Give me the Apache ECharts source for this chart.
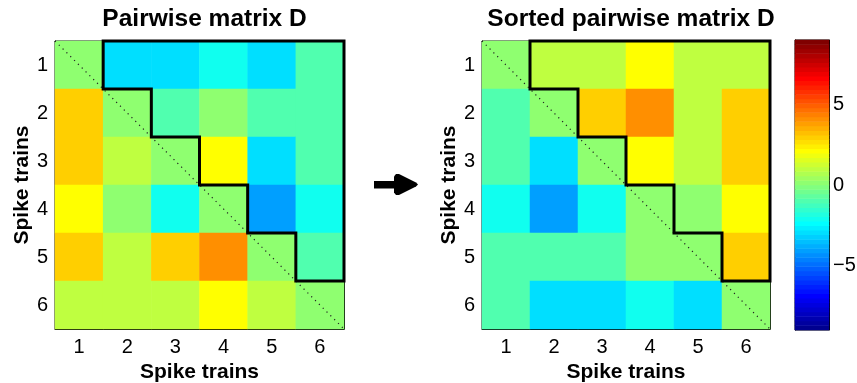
<!DOCTYPE html>
<html>
<head>
<meta charset="utf-8">
<script src="https://cdn.jsdelivr.net/npm/echarts@6/dist/echarts.min.js"></script>
<style>
  html, body { margin: 0; padding: 0; background: #fff; }
  #chart { width: 857px; height: 383px; }
</style>
</head>
<body>
<div id="chart"></div>
<script>
// Spike train labels (rows and columns of both matrices)
const trainLabels = ['1', '2', '3', '4', '5', '6'];

// Pairwise matrix D (row i, column j), antisymmetric
const pairwiseD = [
  [0, -3, -3, -2, -3, -1],
  [3,  0, -1,  0, -1, -1],
  [3,  1,  0,  2, -3, -1],
  [2,  0, -2,  0, -4, -2],
  [3,  1,  3,  4,  0, -1],
  [1,  1,  1,  2,  1,  0]
];

// Same matrix after sorting the spike trains
const sortedD = [
  [ 0,  1,  1,  2,  1,  1],
  [-1,  0,  3,  4,  1,  3],
  [-1, -3,  0,  2,  1,  3],
  [-2, -4, -2,  0,  0,  2],
  [-1, -1, -1,  0,  0,  3],
  [-1, -3, -3, -2, -3,  0]
];

// Colour axis limits and colourbar tick labels
const colorLimits = [-9, 9];
const colorbarTicks = [-5, 0, 5];
const nColors = 64;

// MATLAB-style jet colormap with m entries
function jet(m) {
  const n = Math.ceil(m / 4);
  const u = [];
  for (let i = 1; i <= n; i++) u.push(i / n);
  for (let i = 1; i < n; i++) u.push(1);
  for (let i = n; i >= 1; i--) u.push(i / n);
  const off = Math.ceil(n / 2) - (m % 4 === 1 ? 1 : 0);
  const J = [];
  for (let i = 0; i < m; i++) J.push([0, 0, 0]);
  for (let k = 0; k < u.length; k++) {
    const g = off + k + 1, r = g + n, b = g - n;
    if (r >= 1 && r <= m) J[r - 1][0] = u[k];
    if (g >= 1 && g <= m) J[g - 1][1] = u[k];
    if (b >= 1 && b <= m) J[b - 1][2] = u[k];
  }
  return J.map(c => 'rgb(' + c.map(v => Math.round(v * 255)).join(',') + ')');
}
const jetColors = jet(nColors);
const step = (colorLimits[1] - colorLimits[0]) / nColors;
const pieces = jetColors.map((c, k) => {
  const lo = colorLimits[0] + k * step;
  const p = { color: c };
  if (k > 0) p.gte = lo;
  if (k < nColors - 1) p.lt = lo + step;
  return p;
});

// one heatmap cell per colormap entry for the colourbar
const colorbarLevels = jetColors.map((c, k) => colorLimits[0] + (k + 0.5) * step);

function cells(mat) {
  const out = [];
  mat.forEach((row, i) => row.forEach((v, j) => out.push([j, i, v])));
  return out;
}

// outline of the strict upper triangle (above the diagonal), in cell units
function upperOutline(n) {
  const pts = [[1.5, 0.5], [n + 0.5, 0.5], [n + 0.5, n - 0.5]];
  for (let k = n - 1; k >= 1; k--) {
    pts.push([k + 0.5, k + 0.5]);
    pts.push([k + 0.5, k - 0.5]);
  }
  return pts;
}
const n = trainLabels.length;
const diagonal = [[0.5, 0.5], [n + 0.5, n + 0.5]];

const FONT = '"Liberation Sans", Arial, Helvetica, sans-serif';
const grids = [
  { left: 55, top: 41, width: 289, height: 288 },
  { left: 482, top: 41, width: 288, height: 288 },
  { left: 795, top: 40, width: 34, height: 290 }
];

const xAxes = [], yAxes = [], series = [];
const tickStyle = { show: true, inside: true, alignWithLabel: true, length: 3, lineStyle: { color: '#000', width: 1 } };
const lineStyle = { show: true, lineStyle: { color: '#000', width: 1 } };
const tickFont = { color: '#000', fontSize: 20, fontFamily: FONT };
const nameFont = { color: '#000', fontSize: 21, fontWeight: 'bold', fontFamily: FONT };

[pairwiseD, sortedD].forEach((mat, g) => {
  xAxes.push({
    type: 'category', gridIndex: g, data: trainLabels, position: 'bottom',
    axisLine: lineStyle, axisTick: tickStyle, splitLine: { show: false },
    axisLabel: Object.assign({ margin: 8 }, tickFont),
    name: 'Spike trains', nameLocation: 'middle', nameGap: 28, nameTextStyle: nameFont
  });
  xAxes.push({
    type: 'category', gridIndex: g, data: trainLabels, position: 'top',
    axisLine: lineStyle, axisTick: tickStyle, axisLabel: { show: false }
  });
  xAxes.push({ type: 'value', gridIndex: g, min: 0.5, max: n + 0.5, show: false });

  yAxes.push({
    type: 'category', gridIndex: g, data: trainLabels, inverse: true, position: 'left',
    axisLine: lineStyle, axisTick: tickStyle, splitLine: { show: false },
    axisLabel: Object.assign({ margin: 7 }, tickFont),
    name: 'Spike trains', nameLocation: 'middle', nameGap: 20, nameRotate: 90, nameTextStyle: nameFont
  });
  yAxes.push({
    type: 'category', gridIndex: g, data: trainLabels, inverse: true, position: 'right',
    axisLine: lineStyle, axisTick: tickStyle, axisLabel: { show: false }
  });
  yAxes.push({ type: 'value', gridIndex: g, min: 0.5, max: n + 0.5, inverse: true, show: false });

  series.push({
    type: 'heatmap', xAxisIndex: 3 * g, yAxisIndex: 3 * g,
    data: cells(mat), itemStyle: { borderWidth: 0 }, emphasis: { disabled: true }
  });
  series.push({
    type: 'line', xAxisIndex: 3 * g + 2, yAxisIndex: 3 * g + 2,
    data: diagonal, symbol: 'none', clip: false, z: 5, silent: true,
    lineStyle: { color: '#222', width: 1.2, type: [1.2, 4.2] }
  });
  const outline = upperOutline(n);
  series.push({
    type: 'line', xAxisIndex: 3 * g + 2, yAxisIndex: 3 * g + 2,
    data: outline.concat([outline[0]]), symbol: 'none', clip: false, z: 6, silent: true,
    lineStyle: { color: '#000', width: 3, join: 'miter', cap: 'square' }
  });
});

// colourbar grid
xAxes.push({ type: 'category', gridIndex: 2, data: ['c'], show: false });
yAxes.push({ type: 'category', gridIndex: 2, data: colorbarLevels.map((v, k) => String(k)), show: false });
const minus = v => String(v).replace('-', '\u2212');
yAxes.push({
  type: 'value', gridIndex: 2, min: colorLimits[0], max: colorLimits[1], position: 'right',
  splitLine: { show: false },
  axisLine: lineStyle,
  axisTick: { show: true, inside: true, length: 3, customValues: colorbarTicks, lineStyle: { color: '#000' } },
  axisLabel: Object.assign({ show: true, customValues: colorbarTicks, formatter: minus, margin: 4 }, tickFont)
});
yAxes.push({
  type: 'value', gridIndex: 2, min: colorLimits[0], max: colorLimits[1], position: 'left',
  splitLine: { show: false },
  axisLine: lineStyle,
  axisTick: { show: true, inside: true, length: 3, customValues: colorbarTicks, lineStyle: { color: '#000' } },
  axisLabel: { show: false }
});
series.push({
  type: 'heatmap', xAxisIndex: 6, yAxisIndex: 6,
  data: colorbarLevels.map((v, k) => [0, k, v]), itemStyle: { borderWidth: 0 }, emphasis: { disabled: true }
});

const chart = echarts.init(document.getElementById('chart'), null, { renderer: 'canvas' });
chart.setOption({
  animation: false,
  backgroundColor: '#fff',
  title: [
    { text: 'Pairwise matrix D', left: 199.5, top: 2, textAlign: 'center',
      textStyle: { color: '#000', fontSize: 24.5, fontWeight: 'bold', fontFamily: FONT } },
    { text: 'Sorted pairwise matrix D', left: 626, top: 2, textAlign: 'center',
      textStyle: { color: '#000', fontSize: 24.5, fontWeight: 'bold', fontFamily: FONT } }
  ],
  grid: grids.map(g => Object.assign({
    show: true, borderColor: '#000', borderWidth: 1, backgroundColor: 'transparent',
    containLabel: false, outerBoundsMode: 'none'
  }, g)),
  xAxis: xAxes,
  yAxis: yAxes,
  visualMap: {
    type: 'piecewise', show: false, pieces: pieces,
    seriesIndex: series.map((s, i) => s.type === 'heatmap' ? i : -1).filter(i => i >= 0)
  },
  graphic: [
    { type: 'group', left: 374, top: 174, children: [
      { type: 'rect', shape: { x: 0, y: 7.5, width: 24, height: 7.5 }, style: { fill: '#000' } },
      { type: 'polygon', shape: { points: [[20, 3], [22, 0.5], [25, 0.6], [42, 9], [44, 11], [42, 13], [25, 21.4], [22, 21.5], [20, 19]] }, style: { fill: '#000' } }
    ] }
  ],
  series: series
});
</script>
</body>
</html>
